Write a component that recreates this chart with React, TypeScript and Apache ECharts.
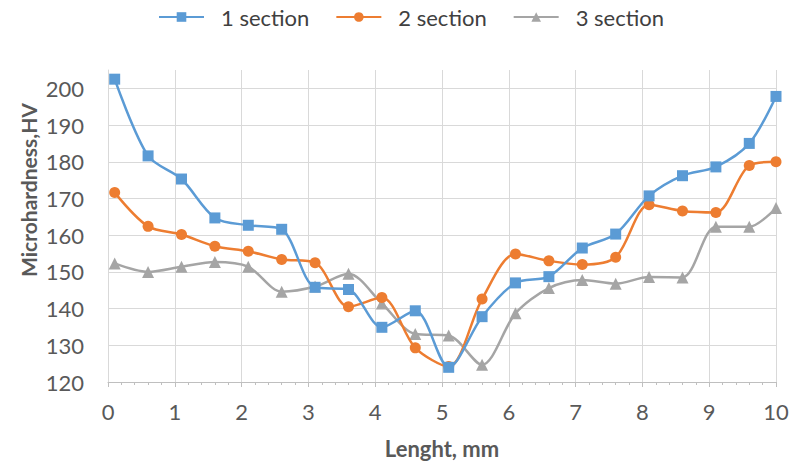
import React, { useEffect, useRef } from "react";
import * as echarts from "echarts";

const xPositions = [0.1, 0.6, 1.1, 1.6, 2.1, 2.6, 3.1, 3.6, 4.1, 4.6, 5.1, 5.6, 6.1, 6.6, 7.1, 7.6, 8.1, 8.6, 9.1, 9.6, 10];
const section1 = [202.5, 181.6, 175.3, 164.7, 162.7, 161.6, 145.8, 145.2, 134.9, 139.4, 124, 137.8, 147, 148.7, 156.5, 160.3, 170.7, 176.2, 178.6, 185, 197.8];
const section2 = [171.6, 162.4, 160.2, 157, 155.6, 153.4, 152.5, 140.5, 143, 129.3, 124.2, 142.6, 154.9, 153, 152, 154, 168.3, 166.6, 166.2, 179, 180];
const section3 = [152.3, 150, 151.4, 152.7, 151.4, 144.6, 146, 149.5, 141.4, 133.1, 132.7, 124.7, 138.7, 145.6, 147.8, 146.8, 148.6, 148.5, 162.3, 162.3, 167.4];
const seriesNames = ["1 section", "2 section", "3 section"];
const colors = ["#5b9bd5", "#ed7d31", "#a5a5a5"];
const symbols = ["rect", "circle", "triangle"];

const FONT = "Lato, 'Open Sans', sans-serif";

export default function App() {
  const ref = useRef<HTMLDivElement>(null);
  useEffect(() => {
    if (!ref.current) return;
    document.body.style.margin = "0";
    const chart = echarts.init(ref.current, null, { renderer: "svg" });
    const all = [section1, section2, section3];
    chart.setOption({
      animation: false,
      backgroundColor: "#ffffff",
      textStyle: { fontFamily: FONT },
      legend: {
        top: 1,
        left: 153,
        itemWidth: 45,
        itemHeight: 12,
        itemGap: 26,
        textStyle: { fontFamily: FONT, fontSize: 22, color: "#404040", padding: [0, 0, 0, 12] },
        data: seriesNames,
      },
      grid: { left: 108, right: 16, top: 70, bottom: 84, containLabel: false, outerBoundsMode: "none" },
      xAxis: {
        type: "value",
        min: 0,
        max: 10,
        interval: 1,
        name: "Lenght, mm",
        nameLocation: "middle",
        nameGap: 55,
        nameTextStyle: { fontFamily: FONT, fontSize: 22, fontWeight: "bold", color: "#595959" },
        axisLine: { show: true, lineStyle: { color: "#bfbfbf", width: 1 } },
        axisTick: { show: true, length: 5, inside: false, lineStyle: { color: "#bfbfbf" } },
        minorTick: { show: true, splitNumber: 5, length: 3, lineStyle: { color: "#bfbfbf" } },
        axisLabel: { fontFamily: FONT, fontSize: 22, color: "#595959", margin: 18 },
        splitLine: { show: true, lineStyle: { color: "#d9d9d9", width: 1 } },
      },
      yAxis: {
        type: "value",
        min: 120,
        max: 205,
        interval: 10,
        axisLine: { show: true, lineStyle: { color: "#d9d9d9" } },
        axisTick: { show: false },
        axisLabel: { fontFamily: FONT, fontSize: 22, color: "#595959", margin: 24, showMaxLabel: false },
        splitLine: { show: true, showMaxLine: false, lineStyle: { color: "#d9d9d9", width: 1 } },
      },
      graphic: [
        {
          type: "text",
          x: 28,
          y: 190,
          rotation: Math.PI / 2,
          style: {
            text: "Microhardness,HV",
            fontFamily: FONT,
            fontSize: 21,
            fontWeight: "bold",
            fill: "#595959",
            align: "center",
            verticalAlign: "middle",
          },
        },
      ],
      series: seriesNames.map((name, i) => ({
        name,
        type: "line",
        smooth: 0.3,
        symbol: symbols[i],
        symbolSize: i === 2 ? 12 : 11,
        lineStyle: { color: colors[i], width: 2.5 },
        itemStyle: { color: colors[i] },
        data: xPositions.map((x, j) => [x, all[i][j]]),
        z: 3 - i,
      })),
    });
    return () => chart.dispose();
  }, []);
  return <div ref={ref} style={{ width: 792, height: 466, overflow: "hidden" }} />;
}
